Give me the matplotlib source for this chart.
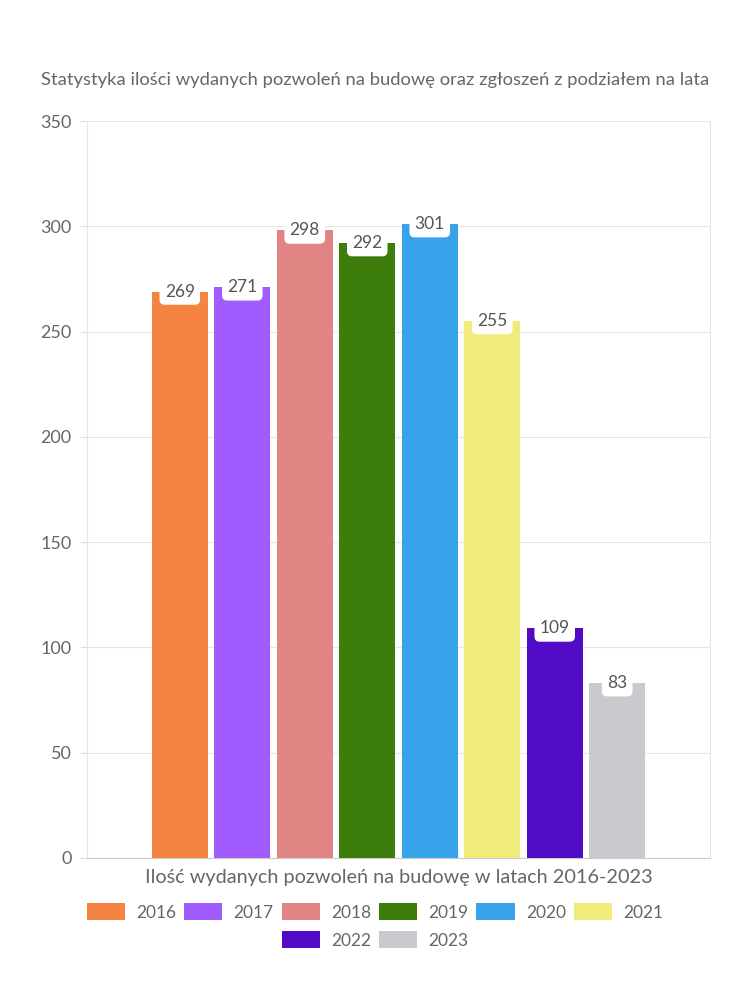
import matplotlib.pyplot as plt
from matplotlib.patches import Patch

years = ["2016", "2017", "2018", "2019", "2020", "2021", "2022", "2023"]
permits = [269, 271, 298, 292, 301, 255, 109, 83]
colors = ["#f58442", "#a05cff", "#e08484", "#3d7d0c", "#38a3eb", "#f0ec7c", "#510bc4", "#c9cacd"]

plt.rcParams["font.family"] = ["Lato", "DejaVu Sans"]
text_color = "#666666"

fig = plt.figure(figsize=(7.5, 10), dpi=100)
ax = fig.add_axes([87 / 750, 1 - 858 / 1000, (710 - 87) / 750, (858 - 121) / 1000])

x = list(range(len(years)))
bars = ax.bar(x, permits, width=0.9, color=colors, zorder=3)

for xi, v in zip(x, permits):
    ax.text(xi, v, str(v), ha="center", va="center", fontsize=12.5, color="#555555", zorder=4,
            bbox=dict(boxstyle="round,pad=0.3,rounding_size=0.3", fc="white", ec="none"))

ax.set_xlim(-1.485, 8.485)
ax.set_ylim(0, 350)
ax.set_yticks(range(0, 351, 50))
ax.set_xticks([])
ax.tick_params(axis="y", labelsize=13, colors=text_color, length=5, color="#dddddd", pad=6)
ax.grid(axis="y", color="#e6e6e6", linewidth=0.8, zorder=0)
for side in ["left", "right", "top"]:
    ax.spines[side].set_color("#e6e6e6")
ax.spines["top"].set_visible(False)
ax.spines["bottom"].set_color("#cccccc")

ax.set_xlabel("Ilość wydanych pozwoleń na budowę w latach 2016-2023", fontsize=14.3,
              color=text_color, labelpad=8)
fig.text(375 / 750, 1 - 80 / 1000, "Statystyka ilości wydanych pozwoleń na budowę oraz zgłoszeń z podziałem na lata",
         ha="center", va="center", fontsize=13.2, color=text_color)

# two legends so the second row is centred
handles = [Patch(facecolor=c, edgecolor="none") for c in colors]
legend_kw = dict(loc="center", frameon=False, fontsize=12.5, handlelength=2.2, handleheight=1.1,
                 columnspacing=0.45, handletextpad=0.65, labelcolor=text_color)
fig.legend(handles[:6], years[:6], bbox_to_anchor=(375 / 750, 1 - 912 / 1000), ncol=6, **legend_kw)
fig.legend(handles[6:], years[6:], bbox_to_anchor=(375 / 750, 1 - 940 / 1000), ncol=2, **legend_kw)

fig.savefig("out.png", dpi=100)
